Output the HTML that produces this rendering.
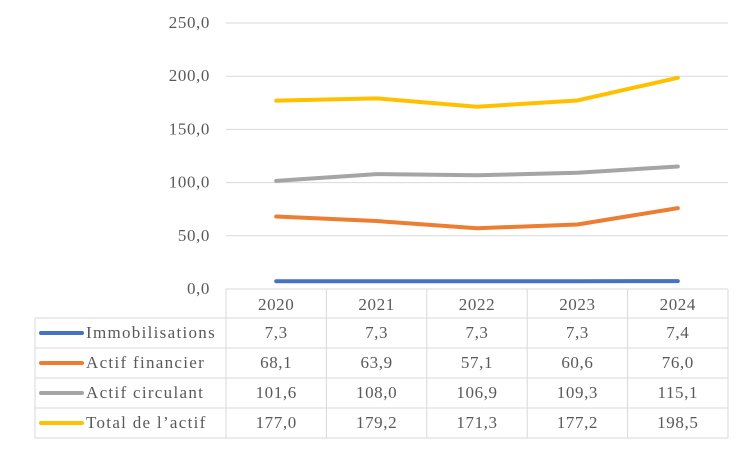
<!DOCTYPE html>
<html><head><meta charset="utf-8"><style>
body{margin:0;background:#fff;}
svg text{font-family:"Liberation Serif",serif;font-size:17px;fill:#595959;letter-spacing:0.6px;}
svg text.leg{letter-spacing:1.3px;}
</style></head><body>
<svg width="750" height="450" xmlns="http://www.w3.org/2000/svg">
<g id="grid"></g><g id="lines"></g><g id="table"></g>
</svg>
<script>
const categories=["2020","2021","2022","2023","2024"];
const seriesNames=["Immobilisations","Actif financier","Actif circulant","Total de l’actif"];
const immobilisations=[7.3,7.3,7.3,7.3,7.4];
const actifFinancier=[68.1,63.9,57.1,60.6,76.0];
const actifCirculant=[101.6,108.0,106.9,109.3,115.1];
const totalActif=[177.0,179.2,171.3,177.2,198.5];
const yTicks=[0,50,100,150,200,250];
const series=[immobilisations,actifFinancier,actifCirculant,totalActif];
const colors=["#4472C4","#ED7D31","#A5A5A5","#FFC000"];
const NS="http://www.w3.org/2000/svg";
const x0=226,x1=728,y0=289,y1=23,yMax=250;
const colW=(x1-x0)/categories.length;
function xs(i){return x0+colW*(i+0.5);}
function ys(v){return y0-(v/yMax)*(y0-y1);}
function mk(t,a,p){const e=document.createElementNS(NS,t);for(const k in a)e.setAttribute(k,a[k]);p.appendChild(e);return e;}
const grid=document.getElementById('grid'),lines=document.getElementById('lines'),table=document.getElementById('table');
const fmt=v=>v.toFixed(1).replace('.',',');
yTicks.forEach(t=>{
 const l=mk('line',{x1:x0,x2:x1,y1:ys(t),y2:ys(t),stroke:'#d9d9d9','stroke-width':1},grid);
 
 
 const tx=mk('text',{x:210,y:ys(t)+5,'text-anchor':'end'},grid);tx.textContent=fmt(t);
 
 
});
series.forEach((s,k)=>{
 const p=mk('polyline',{points:s.map((v,i)=>xs(i)+','+ys(v)).join(' '),fill:'none',stroke:colors[k],'stroke-width':4,'stroke-linecap':'round','stroke-linejoin':'round'},lines);
 
 
});
const rowH=30,hTop=289,hH=29,left=35;
const bc='#d9d9d9';
mk('line',{x1:x0,x2:x1,y1:hTop,y2:hTop,stroke:bc},table);
for(let r=0;r<=4;r++){const y=hTop+hH+r*rowH;mk('line',{x1:left,x2:x1,y1:y,y2:y,stroke:bc},table);}
for(let c=0;c<=5;c++){const x=x0+c*colW;mk('line',{x1:x,x2:x,y1:hTop,y2:hTop+hH+4*rowH,stroke:bc},table);}
mk('line',{x1:left,x2:left,y1:hTop+hH,y2:hTop+hH+4*rowH,stroke:bc},table);
categories.forEach((c,i)=>{const t=mk('text',{x:xs(i),y:hTop+21,'text-anchor':'middle'},table);t.textContent=c;
 
 });
series.forEach((s,k)=>{
 const yc=hTop+hH+k*rowH+rowH/2;
 const l=mk('line',{x1:41,x2:82,y1:yc,y2:yc,stroke:colors[k],'stroke-width':4,'stroke-linecap':'round'},table);
 
 
 const n=mk('text',{x:86,y:yc+5,'class':'leg'},table);n.textContent=seriesNames[k];
 
 
 s.forEach((v,i)=>{const t=mk('text',{x:xs(i),y:yc+5,'text-anchor':'middle'},table);t.textContent=fmt(v);
  
  });
});
</script>
</body></html>
